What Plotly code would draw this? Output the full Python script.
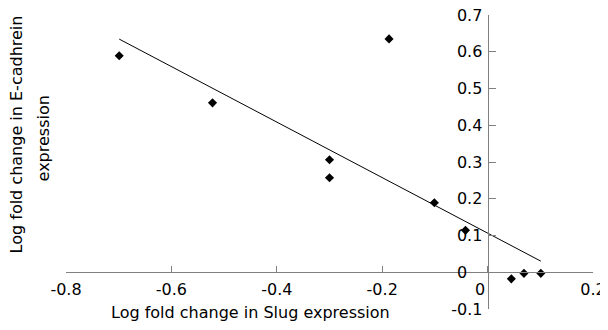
import numpy as np
import plotly.graph_objects as go

slug = [-0.699, -0.522, -0.300, -0.300, -0.187, -0.101, -0.042, 0.045, 0.069, 0.101]
ecad = [0.589, 0.461, 0.306, 0.257, 0.635, 0.189, 0.114, -0.018, -0.003, -0.003]
x_ticks = [-0.8, -0.6, -0.4, -0.2, 0, 0.2]
x_ticklabels = ["-0.8", "-0.6", "-0.4", "-0.2", "0&nbsp;&nbsp;&nbsp;", "0.2"]
y_ticks = [-0.1, 0, 0.1, 0.2, 0.3, 0.4, 0.5, 0.6, 0.7]
y_ticklabels = ["-0.1", "0&nbsp;&nbsp;&nbsp;", "0.1", "0.2", "0.3", "0.4", "0.5", "0.6", "0.7"]

slope, intercept = np.polyfit(slug, ecad, 1)
fx = [min(slug), max(slug)]
fy = [slope * v + intercept for v in fx]

FONT = "DejaVu Sans"
fig = go.Figure()
fig.add_trace(go.Scatter(x=fx, y=fy, mode="lines",
                         line=dict(color="black", width=1), showlegend=False))
fig.add_trace(go.Scatter(x=slug, y=ecad, mode="markers",
                         marker=dict(symbol="diamond", size=7, color="black"),
                         showlegend=False))

OFF = 8  # page offset of the figure inside the browser window
xr = [-0.8, 0.2]
yr = [-0.1, 0.7]
W, H = 600, 314
L, T = 65.7 - OFF, 15.3 - OFF
pw, ph = 527, 294.2
R, B = W - L - pw, H - T - ph
bottom = T + ph


def px(xs):
    return (xs - OFF - L) / pw


def py(ys):
    return (bottom - (ys - OFF)) / ph


fig.update_layout(
    width=W, height=H,
    margin=dict(l=L, r=R, t=T, b=B),
    plot_bgcolor="white", paper_bgcolor="white",
    font=dict(family=FONT, size=16, color="black"),
    xaxis=dict(range=xr, tickvals=x_ticks, ticktext=x_ticklabels,
               showgrid=False, zeroline=False, showline=True,
               linecolor="#808080", linewidth=1, automargin=False,
               ticks="inside", ticklen=6, tickcolor="#808080",
               tickfont=dict(size=16), ticklabeloverflow="allow",
               ticklabelstandoff=3,
               anchor="free", position=(0 - yr[0]) / (yr[1] - yr[0])),
    yaxis=dict(range=yr, tickvals=y_ticks, ticktext=y_ticklabels,
               showgrid=False, zeroline=False, showline=True,
               linecolor="#808080", linewidth=1, automargin=False,
               ticks="inside", ticklen=7, tickcolor="#808080",
               tickfont=dict(size=16), ticklabeloverflow="allow",
               ticklabelstandoff=2,
               anchor="free", position=(0 - xr[0]) / (xr[1] - xr[0])),
    annotations=[
        dict(text="Log fold change in Slug expression", xref="paper", yref="paper",
             x=px(250.5), y=py(313), showarrow=False, font=dict(size=16),
             xanchor="center", yanchor="middle"),
        dict(text="Log fold change in E-cadhrein", xref="paper", yref="paper",
             x=px(16.5), y=py(135), showarrow=False, textangle=-90,
             font=dict(size=16), xanchor="center", yanchor="middle"),
        dict(text="expression", xref="paper", yref="paper",
             x=px(43), y=py(138.5), showarrow=False, textangle=-90,
             font=dict(size=16), xanchor="center", yanchor="middle"),
    ],
)
fig.write_html("out.html")
